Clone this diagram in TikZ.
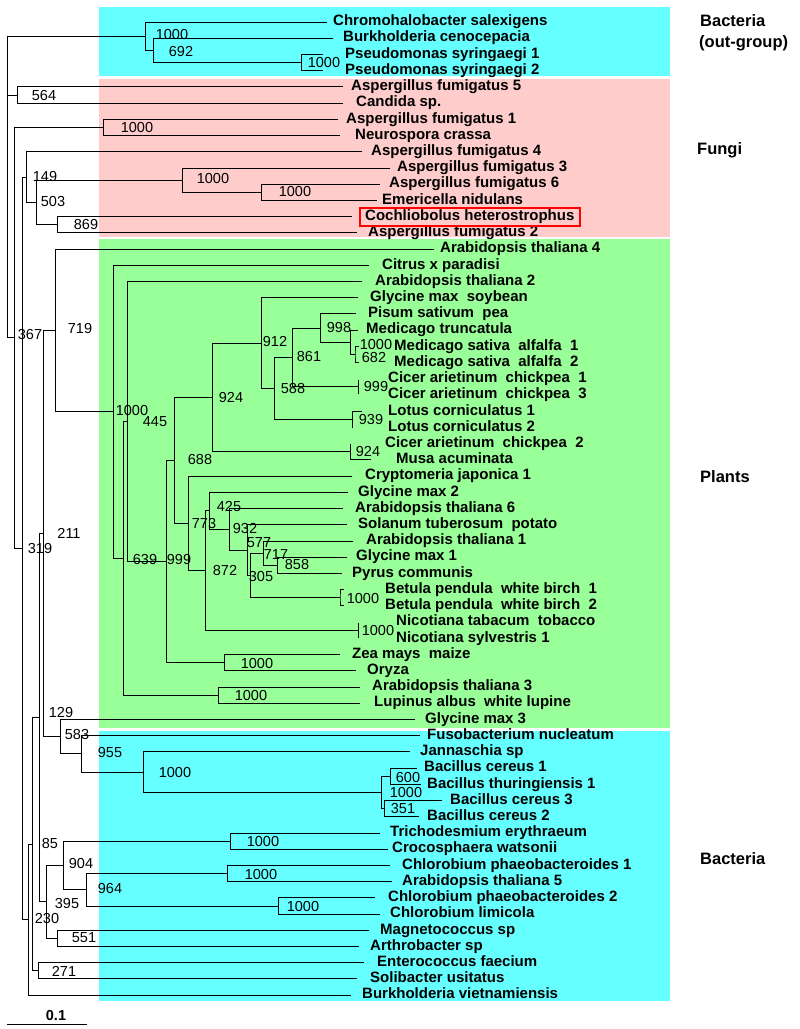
\documentclass[tikz,border=0pt]{standalone}
\usepackage{fontspec}
\setmainfont{Liberation Sans}
\definecolor{bactcyan}{RGB}{102,255,255}
\definecolor{fungipink}{RGB}{255,204,204}
\definecolor{plantgreen}{RGB}{153,255,153}
\begin{document}
\begin{tikzpicture}[x=1pt,y=-1pt,
    br/.style={line width=0.9pt},
    leaf/.style={anchor=west,inner xsep=#1,inner ysep=0pt,text height=11pt,text depth=3.5pt,font=\bfseries\fontsize{15}{17}\selectfont},
    leaf/.default=10,
    bs/.style={inner sep=0pt,font=\fontsize{14.5}{16}\selectfont},
    grp/.style={anchor=west,inner sep=0pt,font=\bfseries\fontsize{16.5}{19}\selectfont}]
    \useasboundingbox (0,0) rectangle (800,1029);
    \fill[white] (0,0) rectangle (800,1029);
    % group backgrounds
    \fill[bactcyan] (99,7) rectangle (670,76);
    \fill[fungipink] (99,79) rectangle (670,237);
    \fill[plantgreen] (99,239) rectangle (670,728);
    \fill[bactcyan] (99,731) rectangle (670,1001);

    % leaves
    \node[leaf=6] (chromo) at (327,22) {Chromohalobacter salexigens};
    \node[leaf=10] (burkc) at (333,38.2) {Burkholderia cenocepacia};
    \node[leaf=22] (pseu1) at (323,54.4) {Pseudomonas syringaegi 1};
    \node[leaf=22] (pseu2) at (323,70.7) {Pseudomonas syringaegi 2};
    \node[leaf=8] (af5) at (343,86.9) {Aspergillus fumigatus 5};
    \node[leaf=13] (candida) at (343,103.1) {Candida sp.};
    \node[leaf=8] (af1) at (338,119.3) {Aspergillus fumigatus 1};
    \node[leaf=15] (neuro) at (340,135.5) {Neurospora crassa};
    \node[leaf=9] (af4) at (362,151.8) {Aspergillus fumigatus 4};
    \node[leaf=7] (af3) at (390,168) {Aspergillus fumigatus 3};
    \node[leaf=9] (af6) at (380,184.2) {Aspergillus fumigatus 6};
    \node[leaf=5] (emer) at (377,200.4) {Emericella nidulans};
    \node[leaf=13] (coch) at (352,216.6) {Cochliobolus heterostrophus};
    \node[leaf=11] (af2) at (357,232.9) {Aspergillus fumigatus 2};
    \node[leaf=6] (at4) at (434,249.1) {Arabidopsis thaliana 4};
    \node[leaf=13] (citrus) at (369,265.3) {Citrus x paradisi};
    \node[leaf=13] (at2) at (362,281.5) {Arabidopsis thaliana 2};
    \node[leaf=12] (glysoy) at (358,297.7) {Glycine max~ soybean};
    \node[leaf=12] (pisum) at (356,313.9) {Pisum sativum~ pea};
    \node[leaf=8] (medtr) at (358,330.2) {Medicago truncatula};
    \node[leaf=0] (alf1) at (394,346.4) {Medicago sativa~ alfalfa~ 1};
    \node[leaf=0] (alf2) at (394,362.6) {Medicago sativa~ alfalfa~ 2};
    \node[leaf=0] (cic1) at (388,378.8) {Cicer arietinum~ chickpea~ 1};
    \node[leaf=0] (cic3) at (388,395) {Cicer arietinum~ chickpea~ 3};
    \node[leaf=0] (lotus1) at (388,411.3) {Lotus corniculatus 1};
    \node[leaf=0] (lotus2) at (388,427.5) {Lotus corniculatus 2};
    \node[leaf=0] (cic2) at (385,443.7) {Cicer arietinum~ chickpea~ 2};
    \node[leaf=25] (musa) at (371,459.9) {Musa acuminata};
    \node[leaf=13] (crypto) at (352,476.1) {Cryptomeria japonica 1};
    \node[leaf=10] (glym2) at (348,492.4) {Glycine max 2};
    \node[leaf=12] (at6) at (343,508.6) {Arabidopsis thaliana 6};
    \node[leaf=11] (solan) at (347,524.8) {Solanum tuberosum~ potato};
    \node[leaf=13] (at1) at (353,541) {Arabidopsis thaliana 1};
    \node[leaf=9] (glym1) at (347,557.2) {Glycine max 1};
    \node[leaf=10] (pyrus) at (342,573.5) {Pyrus communis};
    \node[leaf=0] (bet1) at (385,589.7) {Betula pendula~ white birch~ 1};
    \node[leaf=0] (bet2) at (385,605.9) {Betula pendula~ white birch~ 2};
    \node[leaf=0] (nic1) at (396,622.1) {Nicotiana tabacum~ tobacco};
    \node[leaf=0] (nic2) at (396,638.3) {Nicotiana sylvestris 1};
    \node[leaf=12] (zea) at (340,654.6) {Zea mays~ maize};
    \node[leaf=11] (oryza) at (356,670.8) {Oryza};
    \node[leaf=12] (at3) at (360,687) {Arabidopsis thaliana 3};
    \node[leaf=14] (lupin) at (360,703.2) {Lupinus albus~ white lupine};
    \node[leaf=10] (glym3) at (415,719.4) {Glycine max 3};
    \node[leaf=7] (fuso) at (420,735.7) {Fusobacterium nucleatum};
    \node[leaf=10] (janna) at (410,751.9) {Jannaschia sp};
    \node[leaf=7] (bc1) at (417,768.1) {Bacillus cereus 1};
    \node[leaf=6] (bt1) at (421,784.3) {Bacillus thuringiensis 1};
    \node[leaf=8] (bc3) at (442,800.5) {Bacillus cereus 3};
    \node[leaf=8] (bc2) at (419,816.8) {Bacillus cereus 2};
    \node[leaf=10] (trich) at (380,833) {Trichodesmium erythraeum};
    \node[leaf=4] (croco) at (388,849.2) {Crocosphaera watsonii};
    \node[leaf=12] (chlph1) at (390,865.4) {Chlorobium phaeobacteroides 1};
    \node[leaf=10] (at5) at (392,881.6) {Arabidopsis thaliana 5};
    \node[leaf=13] (chlph2) at (375,897.8) {Chlorobium phaeobacteroides 2};
    \node[leaf=10] (chllim) at (380,914.1) {Chlorobium limicola};
    \node[leaf=11] (magneto) at (369,930.3) {Magnetococcus sp};
    \node[leaf=11] (arthro) at (359,946.5) {Arthrobacter sp};
    \node[leaf=13] (entero) at (364,962.7) {Enterococcus faecium};
    \node[leaf=13] (solib) at (357,978.9) {Solibacter usitatus};
    \node[leaf=11] (burkv) at (351,995.2) {Burkholderia vietnamiensis};
    \draw[red,line width=1.4pt] (360,208) rectangle (580,226);

    % inner nodes
    \coordinate (nroot) at (7,187);
    \coordinate (nout) at (145,36.2);
    \coordinate (nbp) at (153,50.4);
    \coordinate (nps) at (301,62.5);
    \coordinate (n564) at (17,95);
    \coordinate (n14) at (14,337.9);
    \coordinate (naf1) at (103,127.4);
    \coordinate (n22) at (22,548.4);
    \coordinate (n149) at (26,177);
    \coordinate (n503) at (36,202.5);
    \coordinate (naf3) at (182,180.2);
    \coordinate (naf6) at (261,192.3);
    \coordinate (n869) at (57,224.7);
    \coordinate (n28) at (28,919.7);
    \coordinate (n32) at (32,844.1);
    \coordinate (n271) at (38,970.8);
    \coordinate (n39) at (39,717.5);
    \coordinate (n211) at (43,533.1);
    \coordinate (n719) at (55,330.5);
    \coordinate (nA) at (113,411.9);
    \coordinate (nB) at (123,558.4);
    \coordinate (nC) at (127,421.6);
    \coordinate (nD) at (166,561.6);
    \coordinate (nE) at (174,460.5);
    \coordinate (n924) at (212,397.5);
    \coordinate (n912) at (261,343.1);
    \coordinate (n588) at (274,388.5);
    \coordinate (n861) at (292,357.5);
    \coordinate (npis) at (320,328.1);
    \coordinate (n998) at (350,342.4);
    \coordinate (nalf) at (355,354.5);
    \coordinate (ncic) at (358,386.9);
    \coordinate (nlotus) at (352,419.4);
    \coordinate (ncic2) at (350,451.8);
    \coordinate (nF) at (188,523.4);
    \coordinate (nG) at (205,570.6);
    \coordinate (nH) at (209,510.9);
    \coordinate (nI) at (229,529.4);
    \coordinate (nN) at (247,550.2);
    \coordinate (nM) at (250,575.5);
    \coordinate (nL) at (263,553.2);
    \coordinate (nK) at (277,565.3);
    \coordinate (nbet) at (340,597.8);
    \coordinate (nnic) at (358,630.2);
    \coordinate (nzea) at (224,662.7);
    \coordinate (nat3) at (218,695.1);
    \coordinate (n129) at (60,736.7);
    \coordinate (n583) at (81,753.9);
    \coordinate (n955) at (143,772);
    \coordinate (nbac) at (381,792.4);
    \coordinate (n600) at (390,776.2);
    \coordinate (n351) at (384,808.7);
    \coordinate (n46) at (46,901.9);
    \coordinate (n904) at (63,865.4);
    \coordinate (ntri) at (230,841.1);
    \coordinate (n964) at (86,889.7);
    \coordinate (nchl1) at (227,873.5);
    \coordinate (nchl2) at (278,906);
    \coordinate (n551) at (57,938.4);

    % branches
    \draw[br] (nroot) |- (nout) (nroot) |- (n564) (nroot) |- (n14);
    \draw[br] (nout) |- (chromo) (nout) |- (nbp);
    \draw[br] (nbp) |- (burkc) (nbp) |- (nps);
    \draw[br] (nps) |- (pseu1) (nps) |- (pseu2);
    \draw[br] (n564) |- (af5) (n564) |- (candida);
    \draw[br] (n14) |- (naf1) (n14) |- (n22);
    \draw[br] (naf1) |- (af1) (naf1) |- (neuro);
    \draw[br] (n22) |- (n149) (n22) |- (n28);
    \draw[br] (n149) |- (af4) (n149) |- (n503);
    \draw[br] (n503) |- (naf3) (n503) |- (n869);
    \draw[br] (naf3) |- (af3) (naf3) |- (naf6);
    \draw[br] (naf6) |- (af6) (naf6) |- (emer);
    \draw[br] (n869) |- (coch) (n869) |- (af2);
    \draw[br] (n28) |- (n32) (n28) |- (burkv);
    \draw[br] (n32) |- (n39) (n32) |- (n271);
    \draw[br] (n271) |- (entero) (n271) |- (solib);
    \draw[br] (n39) |- (n211) (n39) |- (n46);
    \draw[br] (n211) |- (n719) (n211) |- (n129);
    \draw[br] (n719) |- (at4) (n719) |- (nA);
    \draw[br] (nA) |- (citrus) (nA) |- (nB);
    \draw[br] (nB) |- (nC) (nB) |- (nat3);
    \draw[br] (nat3) |- (at3) (nat3) |- (lupin);
    \draw[br] (nC) |- (at2) (nC) |- (nD);
    \draw[br] (nD) |- (nE) (nD) |- (nzea);
    \draw[br] (nzea) |- (zea) (nzea) |- (oryza);
    \draw[br] (nE) |- (n924) (nE) |- (nF);
    \draw[br] (n924) |- (n912) (n924) |- (ncic2);
    \draw[br] (n912) |- (glysoy) (n912) |- (n588);
    \draw[br] (n588) |- (n861) (n588) |- (nlotus);
    \draw[br] (n861) |- (npis) (n861) |- (ncic);
    \draw[br] (npis) |- (pisum) (npis) |- (n998);
    \draw[br] (n998) |- (medtr) (n998) |- (nalf);
    \draw[br] (359,346.4) -| (nalf) |- (359,362.6);
    \draw[br] (358,379.8) -- (358,394);
    \draw[br] (362,411.3) -- (352,411.3) -- (352,427.5);
    \draw[br] (350,443.7) -- (350,459.9) -- (musa);
    \draw[br] (nF) |- (crypto) (nF) |- (nG);
    \draw[br] (nG) |- (nH) (nG) |- (nnic);
    \draw[br] (nH) |- (glym2) (nH) |- (nI);
    \draw[br] (nI) |- (at6) (nI) |- (nN);
    \draw[br] (nN) |- (solan) (nN) |- (nM);
    \draw[br] (nM) |- (nL) (nM) |- (nbet);
    \draw[br] (nL) |- (at1) (nL) |- (nK);
    \draw[br] (nK) |- (glym1) (nK) |- (pyrus);
    \draw[br] (344,589.7) -| (nbet) |- (344,605.9);
    \draw[br] (358,623) -- (358,637.5);
    \draw[br] (n129) |- (glym3) (n129) |- (n583);
    \draw[br] (n583) |- (fuso) (n583) |- (n955);
    \draw[br] (n955) |- (janna) (n955) |- (nbac);
    \draw[br] (nbac) |- (n600) (nbac) |- (n351);
    \draw[br] (n600) |- (bc1) (n600) |- (bt1);
    \draw[br] (n351) |- (bc3) (n351) |- (bc2);
    \draw[br] (n46) |- (n904) (n46) |- (n551);
    \draw[br] (n551) |- (magneto) (n551) |- (arthro);
    \draw[br] (n904) |- (ntri) (n904) |- (n964);
    \draw[br] (ntri) |- (trich) (ntri) |- (croco);
    \draw[br] (n964) |- (nchl1) (n964) |- (nchl2);
    \draw[br] (nchl1) |- (chlph1) (nchl1) |- (at5);
    \draw[br] (nchl2) |- (chlph2) (nchl2) |- (chllim);

    % bootstrap values
    \node[bs] (bbp) at (172,35) {1000};
    \node[bs] (bbp2) at (181,52) {692};
    \node[bs] (bps) at (324,63) {1000};
    \node[bs] (b564) at (44,96) {564};
    \node[bs] (baf1) at (137,128) {1000};
    \node[bs] (b149) at (45,177) {149};
    \node[bs] (b503) at (53,202) {503};
    \node[bs] (b869) at (86,225) {869};
    \node[bs] (baf3) at (213,179) {1000};
    \node[bs] (baf6) at (295,192) {1000};
    \node[bs] (b367) at (30,335) {367};
    \node[bs] (b719) at (80,329) {719};
    \node[bs] (b211) at (69,533) {211};
    \node[bs] (b319) at (40,548) {319};
    \node[bs] (bA) at (132,411) {1000};
    \node[bs] (b445) at (155,422) {445};
    \node[bs] (b924) at (231,398) {924};
    \node[bs] (b912) at (275,342) {912};
    \node[bs] (b861) at (309,357) {861};
    \node[bs] (b588) at (293,389) {588};
    \node[bs] (b998) at (339,328) {998};
    \node[bs] (balf) at (376,345) {1000};
    \node[bs] (b682) at (374,358) {682};
    \node[bs] (bcic) at (376,387) {999};
    \node[bs] (blotus) at (371,420) {939};
    \node[bs] (bcic2) at (368,452) {924};
    \node[bs] (b688) at (200,460) {688};
    \node[bs] (b773) at (204,523) {773};
    \node[bs] (b425) at (229,507) {425};
    \node[bs] (b932) at (245,528) {932};
    \node[bs] (b577) at (259,543) {577};
    \node[bs] (b717) at (276,555) {717};
    \node[bs] (b858) at (297,564) {858};
    \node[bs] (b872) at (225,570) {872};
    \node[bs] (b305) at (261,576) {305};
    \node[bs] (b639) at (145,559) {639};
    \node[bs] (b999) at (179,559) {999};
    \node[bs] (bbet) at (363,598) {1000};
    \node[bs] (bnic) at (378,630) {1000};
    \node[bs] (bzea) at (257,663) {1000};
    \node[bs] (bat3) at (251,695) {1000};
    \node[bs] (b129) at (61,712) {129};
    \node[bs] (b583) at (77,734) {583};
    \node[bs] (b955) at (110,752) {955};
    \node[bs] (bbac1) at (175,772) {1000};
    \node[bs] (b600) at (408,777) {600};
    \node[bs] (bbac2) at (406,792) {1000};
    \node[bs] (b351) at (403,808) {351};
    \node[bs] (b85) at (50,843) {85};
    \node[bs] (b904) at (81,863) {904};
    \node[bs] (btri) at (263,841) {1000};
    \node[bs] (bchl1) at (261,874) {1000};
    \node[bs] (b964) at (110,888) {964};
    \node[bs] (b395) at (67,903) {395};
    \node[bs] (bchl2) at (303,906) {1000};
    \node[bs] (b230) at (47,918) {230};
    \node[bs] (b551) at (84,938) {551};
    \node[bs] (b271) at (64,971) {271};

    % groups and scale
    \node[grp] (gout) at (700,21) {Bacteria};
    \node[grp] (gout2) at (699,43) {(out-group)};
    \node[grp] (gfungi) at (697,150) {Fungi};
    \node[grp] (gplant) at (700,477) {Plants};
    \node[grp] (gbact) at (700,859) {Bacteria};
    \draw[br] (7,1024) -- (87,1024);
    \node[bs,font=\bfseries\fontsize{14.5}{16}\selectfont] (scale) at (56,1015) {0.1};
\end{tikzpicture}
\end{document}
